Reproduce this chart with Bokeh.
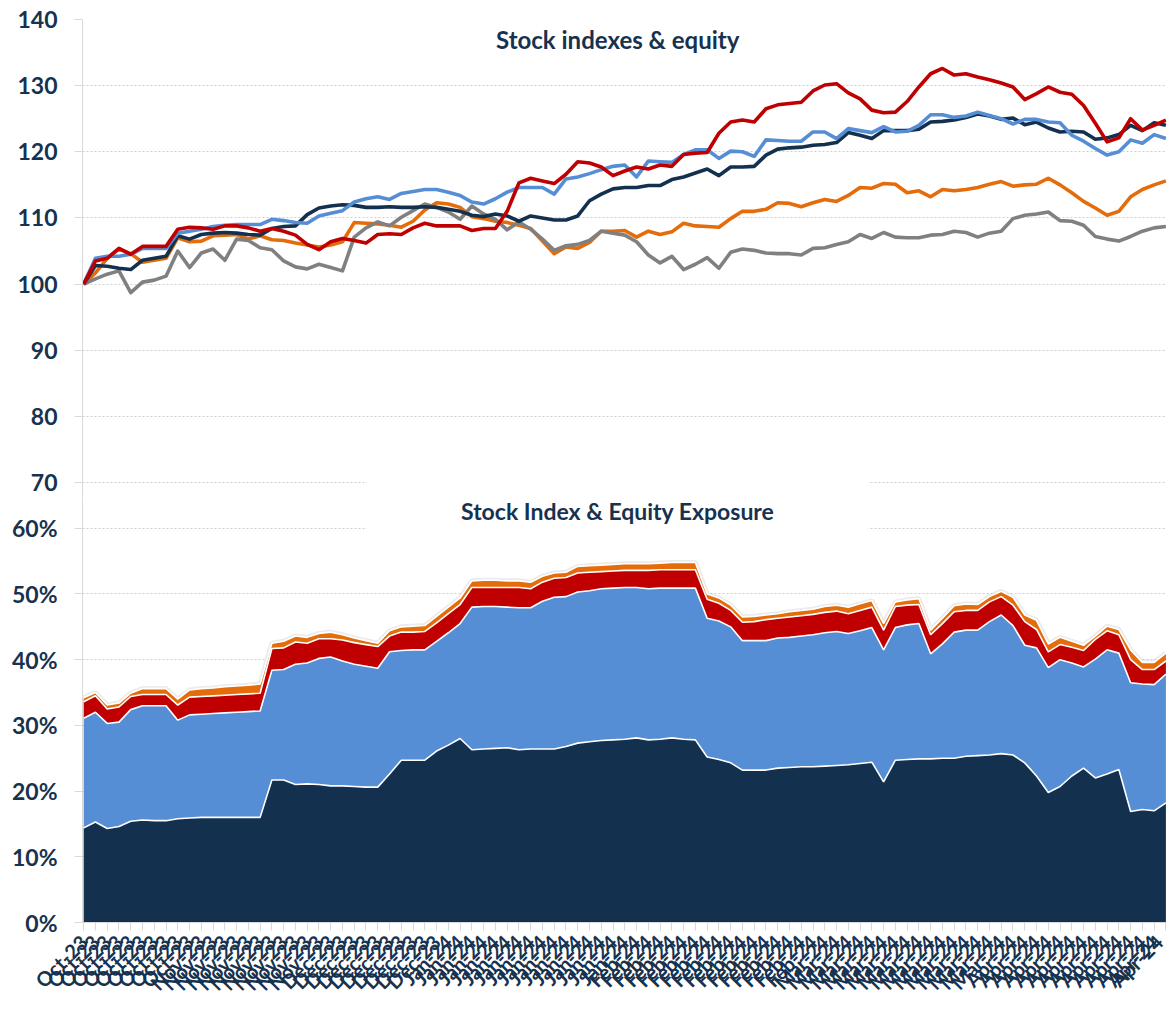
import math
from bokeh.plotting import figure
from bokeh.models import ColumnDataSource, FixedTicker, Label, BoxAnnotation, Range1d
from bokeh.layouts import column
from bokeh.embed import file_html
from bokeh.resources import INLINE

# ---------------- data ----------------
month_labels = (["Oct-23"] * 10 + ["Nov-23"] * 11 + ["Dec-23"] * 10 + ["Jan-24"] * 16
                + ["Feb-24"] * 16 + ["Mar-24"] * 16 + ["Apr-24"] * 14)

# Stock indexes & equity (rebased to 100)
line_navy = [100, 102.8, 102.7, 102.4, 102.2, 103.6, 103.9, 104.2, 107.3, 106.8,
             107.5, 107.7, 107.8, 107.7, 107.5, 107.4, 108.4, 108.7, 108.8, 110.5,
             111.5, 111.8, 112.0, 111.9, 111.6, 111.6, 111.7, 111.6, 111.6, 111.7,
             111.6, 111.3, 111.0, 110.4, 110.2, 110.6, 110.3, 109.5, 110.3, 110.0,
             109.7, 109.7, 110.3, 112.6, 113.6, 114.4, 114.6, 114.6, 114.9, 114.9,
             115.8, 116.2, 116.8, 117.4, 116.4, 117.7, 117.7, 117.8, 119.5, 120.4,
             120.6, 120.7, 121.0, 121.1, 121.4, 122.9, 122.5, 122.0, 123.2, 123.2,
             123.2, 123.4, 124.5, 124.6, 124.8, 125.2, 125.7, 125.4, 124.9, 125.1,
             124.1, 124.5, 123.6, 123.0, 123.1, 123.0, 121.9, 122.1, 122.6, 124.0,
             123.2, 124.4, 124.0]
line_blue = [100, 103.9, 104.2, 104.2, 104.5, 105.4, 105.4, 105.4, 107.7, 108.0,
             108.3, 108.7, 108.9, 109.0, 109.0, 109.0, 109.8, 109.6, 109.3, 109.2,
             110.3, 110.7, 111.1, 112.4, 112.9, 113.2, 112.8, 113.7, 114.0, 114.3,
             114.3, 113.9, 113.4, 112.4, 112.1, 112.9, 113.9, 114.6, 114.6, 114.6,
             113.6, 115.9, 116.2, 116.7, 117.3, 117.8, 118.0, 116.2, 118.6, 118.5,
             118.4, 119.6, 120.3, 120.3, 119.0, 120.1, 120.0, 119.3, 121.8, 121.7,
             121.6, 121.6, 123.0, 123.0, 122.0, 123.5, 123.2, 122.9, 123.8, 123.0,
             123.1, 124.0, 125.6, 125.6, 125.2, 125.4, 126.0, 125.5, 125.0, 124.2,
             124.9, 124.9, 124.5, 124.4, 122.5, 121.6, 120.5, 119.5, 120.0, 121.8,
             121.3, 122.6, 122.0]
line_red = [100, 103.5, 103.9, 105.4, 104.5, 105.7, 105.7, 105.7, 108.3, 108.6,
            108.5, 108.3, 108.8, 108.8, 108.5, 108.0, 108.4, 108.0, 107.4, 106.0,
            105.2, 106.4, 106.9, 106.6, 106.2, 107.5, 107.6, 107.5, 108.5, 109.2,
            108.8, 108.8, 108.8, 108.1, 108.4, 108.4, 111.0, 115.3, 116.0, 115.6,
            115.2, 116.6, 118.5, 118.3, 117.7, 116.4, 117.1, 117.7, 117.4, 118.0,
            117.8, 119.6, 119.8, 119.9, 122.8, 124.5, 124.8, 124.5, 126.5, 127.1,
            127.3, 127.5, 129.2, 130.1, 130.3, 128.9, 128.0, 126.3, 125.9, 126.0,
            127.6, 129.8, 131.8, 132.6, 131.6, 131.8, 131.3, 130.9, 130.4, 129.8,
            127.9, 128.8, 129.8, 129.0, 128.7, 127.0, 124.3, 121.5, 122.1, 125.0,
            123.3, 124.0, 124.8]
line_orange = [100, 101.7, 103.9, 105.3, 104.6, 103.3, 103.6, 103.9, 107.0, 106.4,
               106.5, 107.3, 107.4, 107.5, 106.8, 107.3, 106.7, 106.6, 106.2, 105.9,
               105.6, 105.9, 106.4, 109.3, 109.2, 109.1, 108.9, 108.6, 109.5, 111.2,
               112.3, 112.1, 111.6, 110.2, 109.9, 109.5, 109.3, 108.9, 108.4, 106.5,
               104.6, 105.6, 105.4, 106.3, 108.0, 108.0, 108.1, 107.1, 108.0, 107.5,
               107.9, 109.2, 108.8, 108.7, 108.6, 109.9, 111.0, 111.0, 111.3, 112.3,
               112.2, 111.7, 112.3, 112.8, 112.5, 113.4, 114.6, 114.5, 115.2, 115.1,
               113.8, 114.1, 113.2, 114.3, 114.1, 114.3, 114.6, 115.1, 115.5, 114.8,
               115.0, 115.1, 116.0, 115.0, 113.8, 112.5, 111.5, 110.4, 111.0, 113.2,
               114.3, 115.0, 115.6]
line_gray = [100, 100.8, 101.5, 102.0, 98.7, 100.3, 100.6, 101.2, 105.0, 102.5,
             104.7, 105.3, 103.6, 106.8, 106.6, 105.5, 105.2, 103.5, 102.6, 102.3,
             103.0, 102.5, 102.0, 107.1, 108.5, 109.4, 108.8, 110.1, 111.1, 112.1,
             111.6, 110.9, 109.8, 111.8, 110.6, 109.8, 108.2, 109.4, 108.3, 106.8,
             105.1, 105.8, 106.0, 106.6, 108.0, 107.7, 107.4, 106.4, 104.4, 103.2,
             104.2, 102.2, 103.0, 104.0, 102.4, 104.8, 105.3, 105.1, 104.7, 104.6,
             104.6, 104.4, 105.4, 105.5, 106.0, 106.4, 107.5, 106.9, 107.8, 107.1,
             107.0, 107.0, 107.4, 107.5, 108.0, 107.8, 107.1, 107.7, 108.0, 109.9,
             110.4, 110.6, 110.9, 109.6, 109.5, 108.9, 107.2, 106.8, 106.5, 107.2,
             108.0, 108.5, 108.7]

# Stock Index & Equity Exposure (% shares, stacked)
exp_navy = [14.4, 15.3, 14.3, 14.6, 15.4, 15.6, 15.5, 15.5, 15.8, 15.9,
            16.0, 16.0, 16.0, 16.0, 16.0, 16.0, 21.7, 21.7, 21.0, 21.1,
            21.0, 20.8, 20.8, 20.7, 20.6, 20.6, 22.6, 24.7, 24.7, 24.7,
            26.1, 27.0, 28.0, 26.3, 26.4, 26.5, 26.6, 26.3, 26.4, 26.4,
            26.4, 26.8, 27.3, 27.5, 27.7, 27.8, 27.9, 28.1, 27.8, 27.9,
            28.1, 27.9, 27.8, 25.2, 24.8, 24.3, 23.2, 23.2, 23.2, 23.5,
            23.6, 23.7, 23.7, 23.8, 23.9, 24.0, 24.2, 24.4, 21.4, 24.7,
            24.8, 24.9, 24.9, 25.0, 25.0, 25.3, 25.4, 25.5, 25.7, 25.5,
            24.3, 22.3, 19.8, 20.7, 22.3, 23.5, 22.0, 22.6, 23.3, 16.9,
            17.2, 17.0, 18.2]
exp_blue = [16.7, 16.7, 16.0, 15.9, 17.0, 17.4, 17.5, 17.5, 15.0, 15.7,
            15.7, 15.8, 15.9, 16.0, 16.1, 16.2, 16.7, 16.8, 18.3, 18.4,
            19.2, 19.6, 19.0, 18.6, 18.4, 18.1, 18.6, 16.7, 16.8, 16.8,
            16.7, 17.1, 17.5, 21.7, 21.7, 21.6, 21.4, 21.6, 21.5, 22.5,
            23.1, 22.8, 23.0, 23.0, 23.1, 23.1, 23.1, 22.9, 23.0, 23.0,
            22.8, 23.0, 23.1, 21.1, 21.1, 20.7, 19.7, 19.7, 19.7, 19.8,
            19.8, 19.9, 20.1, 20.3, 20.4, 20.0, 20.2, 20.5, 20.1, 20.2,
            20.5, 20.6, 16.0, 17.4, 19.2, 19.2, 19.1, 20.3, 21.1, 19.7,
            17.9, 19.5, 19.0, 19.3, 17.2, 15.4, 18.1, 18.9, 17.7, 19.6,
            19.1, 19.2, 19.6]
exp_red = [2.5, 2.5, 2.2, 2.3, 2.0, 1.7, 1.7, 1.7, 2.3, 2.7,
           2.7, 2.7, 2.7, 2.7, 2.7, 2.7, 3.3, 3.3, 3.4, 3.0,
           3.0, 2.8, 3.2, 3.3, 3.3, 3.3, 2.4, 2.8, 2.7, 2.8,
           2.8, 2.9, 2.9, 3.0, 2.9, 2.9, 3.0, 3.1, 2.9, 2.9,
           2.9, 2.9, 2.9, 2.8, 2.6, 2.6, 2.6, 2.6, 2.8, 2.8,
           2.8, 2.8, 2.8, 2.9, 2.7, 2.5, 2.8, 2.9, 3.2, 3.0,
           3.1, 3.1, 3.1, 3.1, 3.1, 3.0, 3.1, 3.1, 3.0, 3.2,
           3.0, 2.9, 2.9, 3.1, 3.1, 3.0, 3.0, 3.0, 2.8, 3.1,
           3.6, 2.8, 2.4, 2.3, 2.4, 2.5, 3.0, 2.9, 2.8, 3.5,
           2.2, 2.3, 2.0]
exp_orange = [0.6, 0.5, 0.6, 0.6, 0.5, 0.9, 0.9, 0.9, 0.9, 1.1,
              1.2, 1.2, 1.3, 1.3, 1.3, 1.4, 0.8, 1.0, 0.9, 0.9,
              0.8, 1.0, 0.8, 0.7, 0.6, 0.5, 0.8, 0.8, 0.9, 0.9,
              1.0, 1.0, 1.0, 1.0, 1.1, 1.1, 1.0, 1.0, 1.0, 0.9,
              0.8, 0.8, 1.0, 1.0, 1.0, 1.0, 1.0, 1.0, 1.0, 1.0,
              1.1, 1.1, 1.1, 0.8, 0.8, 0.8, 0.8, 0.8, 0.7, 0.7,
              0.8, 0.8, 0.8, 0.9, 0.9, 1.0, 1.0, 1.0, 1.0, 0.7,
              0.8, 0.9, 0.7, 0.8, 0.9, 1.0, 0.9, 0.8, 0.8, 1.2,
              1.0, 1.4, 1.2, 1.1, 0.9, 0.8, 0.5, 0.7, 0.8, 1.5,
              1.1, 1.1, 1.2]

top_ticks = [70, 80, 90, 100, 110, 120, 130, 140]
pct_ticks = [0, 10, 20, 30, 40, 50, 60]

# ---------------- style ----------------
NAVY = "#14304F"
BLUE = "#558ED5"
RED = "#C00000"
ORANGE = "#E46C0A"
GRAY = "#808080"
TXT = "#17324F"
AXC = "#D9D9D9"
GRID = "#CFCFCF"
FONT = "Lato"
W = 1167

xs = list(range(len(month_labels)))
xr = Range1d(-0.1, len(month_labels) - 1 + 0.05)


def style_y(p, ticks, overrides=None):
    p.yaxis.ticker = FixedTicker(ticks=ticks)
    if overrides:
        p.yaxis.major_label_overrides = overrides
    p.yaxis.axis_line_color = AXC
    p.yaxis.major_tick_line_color = AXC
    p.yaxis.major_tick_out = 8
    p.yaxis.major_tick_in = 0
    p.yaxis.minor_tick_line_color = None
    p.yaxis.major_label_text_font = FONT
    p.yaxis.major_label_text_font_size = "23px"
    p.yaxis.major_label_text_font_style = "bold"
    p.yaxis.major_label_text_color = TXT
    p.yaxis.major_label_standoff = 17
    p.ygrid.grid_line_color = GRID
    p.ygrid.grid_line_dash = "2 2"
    p.xgrid.visible = False
    p.outline_line_color = None


# ---------------- top chart ----------------
top = figure(width=W, height=496, output_backend="svg", toolbar_location=None,
             x_range=xr, y_range=Range1d(67.89, 140),
             min_border_left=82, min_border_right=1, min_border_top=19, min_border_bottom=0)
top.xaxis.visible = False
style_y(top, top_ticks)

src_top = ColumnDataSource(dict(x=xs, navy=line_navy, blue=line_blue, red=line_red,
                                orange=line_orange, gray=line_gray))
for key, col in [("orange", ORANGE), ("gray", GRAY), ("navy", NAVY), ("blue", BLUE), ("red", RED)]:
    top.line("x", key, source=src_top, line_color=col, line_width=3.6, line_join="round")

top.add_layout(BoxAnnotation(left=24.07, right=66.7, bottom=137.6, top=141,
                             fill_color="white", fill_alpha=1, line_color=None))
top.add_layout(BoxAnnotation(left=24.07, right=66.7, bottom=67.0, top=70.8,
                             fill_color="white", fill_alpha=1, line_color=None))
top.add_layout(Label(x=45.4, y=137.0, text="Stock indexes & equity", text_align="center",
                     text_baseline="middle", text_font=FONT, text_font_size="24px",
                     text_font_style="bold", text_color=TXT))

# ---------------- bottom chart ----------------
bot = figure(width=W, height=513, output_backend="svg", toolbar_location=None,
             x_range=xr, y_range=Range1d(0, 64.84),
             min_border_left=82, min_border_right=1, min_border_top=0, min_border_bottom=87)
style_y(bot, pct_ticks, {t: f"{t}%" for t in pct_ticks})

bot.xaxis.ticker = FixedTicker(ticks=xs)
bot.xaxis.major_label_overrides = {i: lab for i, lab in enumerate(month_labels)}
bot.xaxis.major_label_orientation = math.pi / 4
bot.xaxis.axis_line_color = AXC
bot.xaxis.major_tick_line_color = AXC
bot.xaxis.major_tick_out = 8
bot.xaxis.major_tick_in = 0
bot.xaxis.minor_tick_line_color = None
bot.xaxis.major_label_text_font = FONT
bot.xaxis.major_label_text_font_size = "20px"
bot.xaxis.major_label_text_font_style = "bold"
bot.xaxis.major_label_text_color = TXT
bot.xaxis.major_label_standoff = 8

src_bot = ColumnDataSource(dict(x=xs, navy=exp_navy, blue=exp_blue, red=exp_red, orange=exp_orange))
stack = ["navy", "blue", "red", "orange"]
bot.vline_stack(stack, x="x", source=src_bot, line_color="#BDBDBD", line_alpha=0.3, line_width=5)
bot.varea_stack(stack, x="x", source=src_bot, color=[NAVY, BLUE, RED, ORANGE])
bot.vline_stack(stack, x="x", source=src_bot, line_color="white", line_width=1.6)

bot.add_layout(BoxAnnotation(left=24.07, right=66.7, bottom=59.2, top=66,
                             fill_color="white", fill_alpha=1, line_color=None))
bot.add_layout(Label(x=45.4, y=62.6, text="Stock Index & Equity Exposure", text_align="center",
                     text_baseline="middle", text_font=FONT, text_font_size="23px",
                     text_font_style="bold", text_color=TXT))

layout = column(top, bot, spacing=0)
open("out.html", "w").write(file_html(layout, INLINE))
